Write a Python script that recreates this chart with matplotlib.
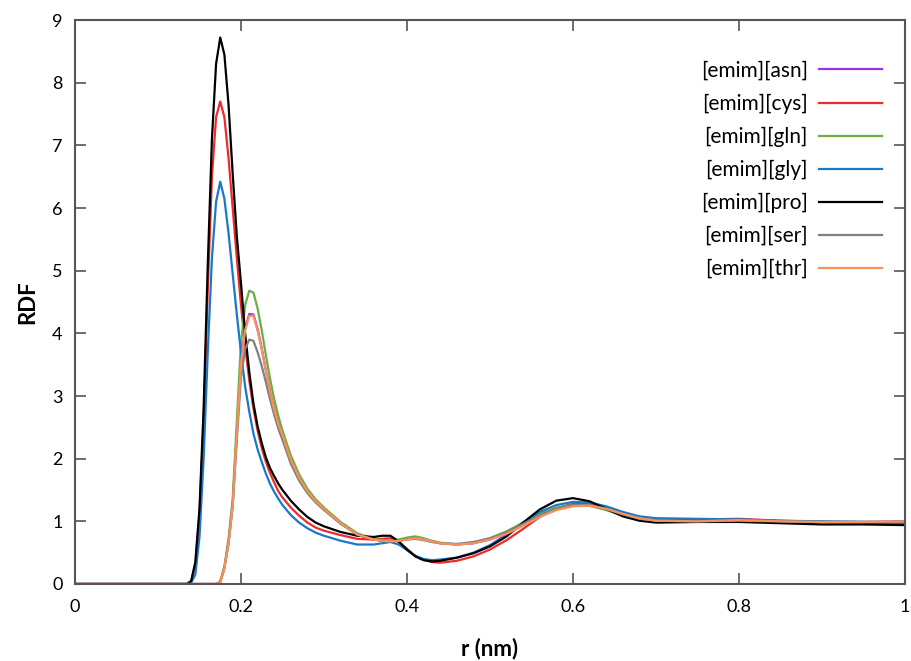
import numpy as np
import matplotlib
matplotlib.use("Agg")
import matplotlib.pyplot as plt

plt.rcParams['font.family'] = ['Lato', 'DejaVu Sans']

# r grid (nm), shared by all curves
r = [0.0,
     0.13, 0.135, 0.14, 0.145, 0.15, 0.155, 0.16, 0.165, 0.17, 0.175,
     0.18, 0.185, 0.19, 0.195, 0.20, 0.205, 0.21, 0.215, 0.22, 0.225,
     0.23, 0.235, 0.24, 0.245, 0.25,
     0.26, 0.27, 0.28, 0.29, 0.30,
     0.32, 0.34, 0.36,
     0.37, 0.38, 0.39, 0.40, 0.41, 0.42, 0.43, 0.44,
     0.46, 0.48, 0.50, 0.52, 0.54, 0.56, 0.58, 0.60, 0.62, 0.64, 0.66, 0.68, 0.70,
     0.75, 0.80, 0.85, 0.90, 0.95, 1.00]

asn = [0.0,
       0, 0, 0, 0, 0, 0, 0, 0, 0, 0.03,
       0.26, 0.66, 1.27, 2.42, 3.52, 4.08, 4.31, 4.30, 4.07, 3.76,
       3.41, 3.08, 2.79, 2.56, 2.38,
       1.98, 1.70, 1.48, 1.32, 1.20,
       0.97, 0.79, 0.71,
       0.69, 0.68, 0.69, 0.72, 0.74, 0.72, 0.68, 0.65,
       0.63, 0.65, 0.71, 0.81, 0.94, 1.08, 1.19, 1.25, 1.25, 1.19, 1.11, 1.04, 1.00,
       0.99, 1.01, 1.00, 0.99, 0.99, 1.00]

cys = [0.0,
       0, 0, 0.04, 0.30, 1.10, 2.60, 4.70, 6.50, 7.45, 7.70,
       7.45, 6.80, 6.00, 5.20, 4.45, 3.80, 3.25, 2.80, 2.45, 2.17,
       1.95, 1.77, 1.62, 1.48, 1.38,
       1.22, 1.09, 0.98, 0.90, 0.85,
       0.78, 0.72, 0.71,
       0.72, 0.73, 0.67, 0.56, 0.45, 0.39, 0.35, 0.34,
       0.37, 0.44, 0.55, 0.70, 0.88, 1.07, 1.21, 1.28, 1.28, 1.21, 1.12, 1.05, 1.02,
       1.03, 1.04, 1.01, 0.99, 0.98, 0.97]

gln = [0.0,
       0, 0, 0, 0, 0, 0, 0, 0, 0, 0.04,
       0.28, 0.72, 1.35, 2.60, 3.85, 4.45, 4.68, 4.65, 4.40, 4.05,
       3.65, 3.28, 2.95, 2.68, 2.45,
       2.05, 1.75, 1.52, 1.35, 1.22,
       0.99, 0.81, 0.72,
       0.70, 0.69, 0.71, 0.74, 0.76, 0.73, 0.69, 0.66,
       0.63, 0.66, 0.73, 0.84, 0.98, 1.12, 1.22, 1.26, 1.25, 1.18, 1.09, 1.02, 0.99,
       1.00, 1.02, 1.00, 0.99, 0.99, 0.99]

gly = [0.0,
       0, 0, 0.02, 0.15, 0.75, 2.00, 3.70, 5.20, 6.10, 6.42,
       6.15, 5.60, 4.95, 4.30, 3.70, 3.15, 2.75, 2.40, 2.15, 1.95,
       1.76, 1.60, 1.47, 1.36, 1.26,
       1.10, 0.98, 0.89, 0.82, 0.77,
       0.69, 0.63, 0.63,
       0.65, 0.67, 0.63, 0.54, 0.45, 0.40, 0.38, 0.39,
       0.42, 0.50, 0.62, 0.79, 0.98, 1.15, 1.26, 1.31, 1.30, 1.24, 1.15, 1.08, 1.05,
       1.04, 1.03, 1.01, 1.00, 0.99, 0.98]

pro = [0.0,
       0, 0, 0.05, 0.35, 1.20, 2.80, 5.10, 7.10, 8.30, 8.72,
       8.45, 7.65, 6.55, 5.55, 4.80, 4.00, 3.38, 2.88, 2.52, 2.25,
       2.02, 1.85, 1.72, 1.60, 1.50,
       1.33, 1.19, 1.07, 0.98, 0.92,
       0.83, 0.77, 0.75,
       0.77, 0.77, 0.68, 0.55, 0.44, 0.38, 0.36, 0.37,
       0.42, 0.49, 0.60, 0.76, 0.98, 1.19, 1.33, 1.37, 1.32, 1.20, 1.08, 1.01, 0.98,
       0.99, 0.99, 0.97, 0.95, 0.95, 0.94]

ser = [0.0,
       0, 0, 0, 0, 0, 0, 0, 0, 0, 0.03,
       0.25, 0.65, 1.25, 2.30, 3.30, 3.75, 3.90, 3.88, 3.70, 3.48,
       3.22, 2.95, 2.70, 2.48, 2.30,
       1.92, 1.65, 1.45, 1.30, 1.18,
       0.96, 0.79, 0.71,
       0.69, 0.68, 0.69, 0.71, 0.72, 0.70, 0.67, 0.65,
       0.64, 0.67, 0.73, 0.83, 0.96, 1.10, 1.20, 1.26, 1.26, 1.20, 1.11, 1.04, 1.01,
       1.00, 1.01, 1.00, 0.99, 0.99, 0.99]

thr = [0.0,
       0, 0, 0, 0, 0, 0, 0, 0, 0, 0.03,
       0.25, 0.65, 1.25, 2.40, 3.50, 4.05, 4.28, 4.28, 4.05, 3.75,
       3.40, 3.07, 2.78, 2.55, 2.38,
       1.98, 1.70, 1.48, 1.32, 1.20,
       0.97, 0.79, 0.71,
       0.69, 0.68, 0.69, 0.71, 0.73, 0.71, 0.68, 0.65,
       0.63, 0.65, 0.71, 0.80, 0.93, 1.07, 1.18, 1.24, 1.25, 1.20, 1.12, 1.05, 1.01,
       1.00, 1.02, 1.00, 0.99, 0.99, 1.00]

labels = ['[emim][asn]', '[emim][cys]', '[emim][gln]', '[emim][gly]',
          '[emim][pro]', '[emim][ser]', '[emim][thr]']
series = [asn, cys, gln, gly, pro, ser, thr]
colors = ['#a030e8', '#ee2a2a', '#6cad45', '#1a78c8', '#000000', '#808080', '#f7905a']

fig = plt.figure(figsize=(9.11, 6.61), dpi=100)
ax = fig.add_axes([0.0823, 0.1165, 0.9111, 0.8532])

for y, lab, c in zip(series, labels, colors):
    ax.plot(r, y, color=c, lw=1.6, label=lab)

ax.set_xlim(0, 1)
ax.set_ylim(0, 9)
ax.set_xticks([0, 0.2, 0.4, 0.6, 0.8, 1])
ax.set_xticklabels(['0', '0.2', '0.4', '0.6', '0.8', '1'])
ax.set_yticks(range(10))
ax.tick_params(direction='in', length=8, width=1.2, color='#555555',
               top=True, right=True, labelsize=13)
ax.tick_params(axis='x', pad=11)
ax.tick_params(axis='y', pad=9)
for s in ax.spines.values():
    s.set_color('#555555')
    s.set_linewidth(1.5)

ax.set_xlabel('r (nm)', fontsize=16, fontweight='bold', labelpad=16)
ax.set_ylabel('RDF', fontsize=16, fontweight='bold', labelpad=10)

leg = ax.legend(loc='upper right', bbox_to_anchor=(0.9946, 0.961), frameon=False,
                markerfirst=False, fontsize=15, handlelength=3.0,
                handletextpad=0.55, labelspacing=0.62)

fig.savefig('out.png', dpi=100)
